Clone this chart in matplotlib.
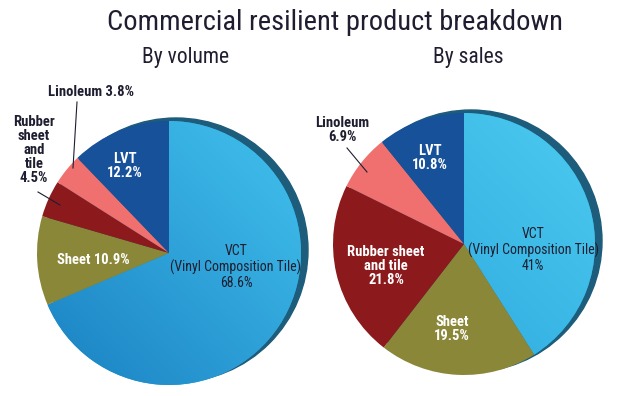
import numpy as np
import matplotlib
matplotlib.use("Agg")
import matplotlib.pyplot as plt
from matplotlib.patches import Circle

plt.rcParams['font.family'] = ['Roboto Condensed', 'Roboto', 'DejaVu Sans']

# data
products = ["VCT", "Sheet", "Rubber sheet and tile", "Linoleum", "LVT"]
by_volume = [68.6, 10.9, 4.5, 3.8, 12.2]
by_sales = [41.0, 19.5, 21.8, 6.9, 10.8]

colors = ["#2a9fd8", "#8a8838", "#8c1a1c", "#f07070", "#17519a"]
shadow_col = "#1d5c7a"
dark = "#1e1e30"

W, H = 624, 396
fig = plt.figure(figsize=(W / 100, H / 100), dpi=100)
ax = fig.add_axes([0, 0, 1, 1])


def draw_pie(vals, cx, cy, r, vct_light, vct_dark):
    # shadow disk behind (up and to the right)
    ax.add_patch(Circle((cx + 7, cy - 3), r, color=shadow_col, zorder=1))
    # y axis gets flipped, so counterclock=True runs clockwise on screen
    wedges, _ = ax.pie(vals, colors=colors, startangle=-90, counterclock=True,
                       center=(cx, cy), radius=r, frame=True,
                       wedgeprops=dict(linewidth=0, zorder=2))
    # diagonal gradient on the VCT wedge (lighter towards upper right)
    gx, gy = np.meshgrid(np.linspace(0, 1, 128), np.linspace(0, 1, 128))
    grad = (gx + (1 - gy)) / 2
    cmap = matplotlib.colors.LinearSegmentedColormap.from_list("g", [vct_dark, vct_light])
    im = ax.imshow(grad, cmap=cmap, extent=[cx - r, cx + r, cy + r, cy - r],
                   origin='upper', aspect='auto', zorder=3)
    im.set_clip_path(wedges[0])
    for w in wedges[1:]:
        w.set_zorder(4)
    return wedges


draw_pie(by_volume, 169, 253, 132, "#42c2ee", "#1a80c2")
draw_pie(by_sales, 464, 244, 131, "#4ccbf0", "#27a2da")
ax.set_xlim(0, W)
ax.set_ylim(H, 0)
ax.set_aspect('equal')
ax.axis('off')

# titles
ax.text(335, 23, "Commercial resilient product breakdown", ha='center', va='center',
        fontsize=20.5, color=dark)
ax.text(186, 57, "By volume", ha='center', va='center', fontsize=15.5, color=dark)
ax.text(468, 57, "By sales", ha='center', va='center', fontsize=15.5, color=dark)

lab = dict(ha='center', va='center', zorder=6)
reg = dict(fontsize=10, color=dark, linespacing=1.12)
bw = dict(fontsize=10.5, color='white', fontweight='bold', linespacing=1.0)
bd = dict(fontsize=10.5, color=dark, fontweight='bold', linespacing=1.0)

# by volume labels
ax.text(236, 267, f"VCT\n(Vinyl Composition Tile)\n{by_volume[0]}%", **reg, **lab)
ax.text(93, 260, f"Sheet {by_volume[1]}%", **bw, **lab)
ax.text(125, 166, f"LVT\n{by_volume[4]}%", **bw, **lab)
ax.text(91, 92, f"Linoleum {by_volume[3]}%", **bd, **lab)
ax.text(34, 150, f"Rubber\nsheet\nand\ntile\n{by_volume[2]}%", **bd, **lab)
ax.plot([77, 73], [102, 168], color=dark, lw=0.8, zorder=6)
ax.plot([38, 60], [192, 205], color=dark, lw=0.8, zorder=6)

# by sales labels
ax.text(533, 250, f"VCT\n(Vinyl Composition Tile)\n{by_sales[0]:g}%", **reg, **lab)
ax.text(452, 329, f"Sheet\n{by_sales[1]}%", **bw, **lab)
ax.text(386, 266, f"Rubber sheet\nand tile\n{by_sales[2]}%", **bw, **lab)
ax.text(430, 158, f"LVT\n{by_sales[4]}%", **bw, **lab)
ax.text(342, 130, f"Linoleum\n{by_sales[3]}%", **bd, **lab)
ax.plot([347, 367], [148, 172], color=dark, lw=0.8, zorder=6)

fig.savefig("out.png", dpi=100)
